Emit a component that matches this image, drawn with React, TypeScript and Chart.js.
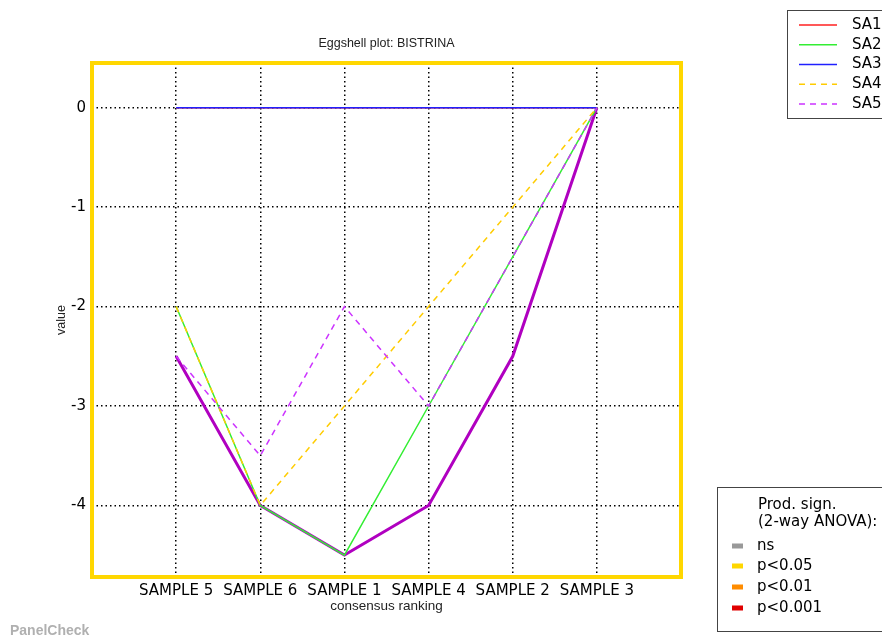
import React, { useEffect, useRef } from "react";
import { Chart, registerables } from "chart.js";

Chart.register(...registerables);

const categories = ["SAMPLE 5", "SAMPLE 6", "SAMPLE 1", "SAMPLE 4", "SAMPLE 2", "SAMPLE 3"];
const sa1 = [0, 0, 0, 0, 0, 0];
const sa2 = [-2, -4, -4.5, -3, -1.5, 0];
const sa3 = [0, 0, 0, 0, 0, 0];
const sa4 = [-2, -4, -3, -2, -1, 0];
const sa5 = [-2.5, -3.5, -2, -3, -1.5, 0];
const eggshell = [-2.5, -4, -4.5, -4, -2.5, 0];
const yTicks = [0, -1, -2, -3, -4];

const assessorNames = ["SA1", "SA2", "SA3", "SA4", "SA5"];
const assessorColors = ["#ff2020", "#33ee33", "#2020ff", "#ffcc00", "#cc33ff"];
const assessorDashed = [false, false, false, true, true];

const signLabels = ["ns", "p<0.05", "p<0.01", "p<0.001"];
const signColors = ["#999999", "#ffd700", "#ff8c00", "#e00000"];

const toPts = (arr: number[]) => arr.map((v, i) => ({ x: i, y: v }));

const FONT_FAMILY = "'DejaVu Sans', sans-serif";
const LABEL_FAMILY = "'Liberation Sans', Arial, sans-serif";

const overlayPlugin = {
  id: "overlay",
  afterDraw(chart: any) {
    const { ctx, chartArea } = chart;
    const { left, top, right, bottom } = chartArea;
    ctx.save();
    // yellow frame
    ctx.strokeStyle = "#ffd700";
    ctx.lineWidth = 4;
    ctx.setLineDash([]);
    ctx.strokeRect(left, top, right - left, bottom - top);

    // title and axis labels
    ctx.fillStyle = "#222";
    ctx.textAlign = "center";
    ctx.textBaseline = "middle";
    ctx.font = `12.5px ${LABEL_FAMILY}`;
    ctx.fillText("Eggshell plot: BISTRINA", (left + right) / 2, 44);
    ctx.font = `13.5px ${LABEL_FAMILY}`;
    ctx.fillText("consensus ranking", (left + right) / 2, 606);
    ctx.save();
    ctx.translate(62, (top + bottom) / 2);
    ctx.rotate(-Math.PI / 2);
    ctx.font = `12.5px ${LABEL_FAMILY}`;
    ctx.fillText("value", 0, 0);
    ctx.restore();

    // PanelCheck
    ctx.textAlign = "left";
    ctx.fillStyle = "#b0b0b0";
    ctx.font = `bold 14px ${LABEL_FAMILY}`;
    ctx.fillText("PanelCheck", 10, 631);

    // assessor legend
    ctx.fillStyle = "#ffffff";
    ctx.fillRect(787.5, 10.5, 120, 108);
    ctx.strokeStyle = "#444";
    ctx.lineWidth = 1;
    ctx.strokeRect(787.5, 10.5, 120, 108);
    ctx.font = `15px ${FONT_FAMILY}`;
    assessorNames.forEach((n, i) => {
      const y = 25 + i * 19.75;
      ctx.strokeStyle = assessorColors[i];
      ctx.lineWidth = 1.5;
      ctx.setLineDash(assessorDashed[i] ? [6, 5] : []);
      ctx.beginPath();
      ctx.moveTo(799, y);
      ctx.lineTo(837, y);
      ctx.stroke();
      ctx.setLineDash([]);
      ctx.fillStyle = "#000";
      ctx.fillText(n, 852, y);
    });

    // significance legend
    ctx.fillStyle = "#ffffff";
    ctx.fillRect(717.5, 487.5, 180, 144);
    ctx.strokeStyle = "#444";
    ctx.lineWidth = 1;
    ctx.strokeRect(717.5, 487.5, 180, 144);
    ctx.fillStyle = "#000";
    ctx.fillText("Prod. sign.", 758, 505);
    ctx.fillText("(2-way ANOVA):", 758, 522);
    const sy = [546, 566, 587, 608];
    signLabels.forEach((l, i) => {
      ctx.fillStyle = signColors[i];
      ctx.fillRect(732, sy[i] - 2.5, 11, 5);
      ctx.fillStyle = "#000";
      ctx.fillText(l, 757, sy[i]);
    });
    ctx.restore();
  },
};

export default function App() {
  const ref = useRef<HTMLCanvasElement | null>(null);
  useEffect(() => {
    document.body.style.margin = "0";
    const canvas = ref.current!;
    const mk = (label: string, data: number[], color: string, width: number, dashed: boolean, order: number) => ({
      label,
      data: toPts(data),
      borderColor: color,
      backgroundColor: color,
      borderWidth: width,
      borderDash: dashed ? [6, 5] : [],
      pointRadius: 0,
      fill: false,
      tension: 0,
      order,
    });
    const datasets = [
      mk("eggshell", eggshell, "#b000c0", 3, false, 6),
      mk("SA1", sa1, assessorColors[0], 1.5, false, 5),
      mk("SA2", sa2, assessorColors[1], 1.5, false, 4),
      mk("SA3", sa3, assessorColors[2], 1.5, false, 3),
      mk("SA4", sa4, assessorColors[3], 1.5, true, 2),
      mk("SA5", sa5, assessorColors[4], 1.5, true, 1),
    ];
    const gridColor = (c: any) => (c.tick ? "#000" : "transparent");
    const chart = new Chart(canvas, {
      type: "line",
      data: { datasets },
      options: {
        animation: false,
        responsive: false,
        layout: { padding: { left: 0, top: 63, right: 201, bottom: 0 } },
        plugins: { legend: { display: false }, tooltip: { enabled: false }, title: { display: false } },
        scales: {
          x: {
            type: "linear",
            min: -1,
            max: 6,
            afterBuildTicks: (axis: any) => {
              axis.ticks = categories.map((_, i) => ({ value: i }));
            },
            afterFit: (axis: any) => {
              axis.height = 61;
            },
            ticks: {
              callback: (v: any) => categories[v as number] ?? "",
              color: "#000",
              font: { family: FONT_FAMILY, size: 15 },
              maxRotation: 0,
              autoSkip: false,
              padding: 5,
            },
            grid: { color: gridColor, lineWidth: 1.5, drawTicks: false },
            border: { display: false, dash: [1.5, 3] },
          },
          y: {
            type: "linear",
            min: -4.72,
            max: 0.45,
            afterBuildTicks: (axis: any) => {
              axis.ticks = yTicks.map((v) => ({ value: v }));
            },
            afterFit: (axis: any) => {
              axis.width = 92;
            },
            ticks: {
              color: "#000",
              font: { family: FONT_FAMILY, size: 15 },
              padding: 6,
            },
            grid: { color: gridColor, lineWidth: 1.5, drawTicks: false },
            border: { display: false, dash: [1.5, 3] },
          },
        },
      },
      plugins: [overlayPlugin],
    });
    return () => chart.destroy();
  }, []);
  return <canvas ref={ref} width={882} height={638} style={{ display: "block" }} />;
}
